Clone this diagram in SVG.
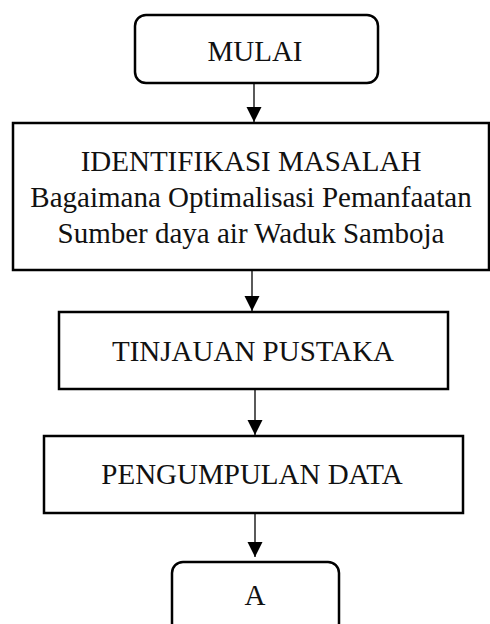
<svg xmlns="http://www.w3.org/2000/svg" width="490" height="624" viewBox="0 0 490 624">
<style>
.box{fill:#fff;stroke:#000;stroke-width:2.5}
.t{font-family:"Liberation Serif","Times New Roman",serif;font-size:29px;fill:#111;text-anchor:middle}
.c{stroke:#000;stroke-width:1.3;fill:none}
</style>
<defs>
<marker id="ah" markerUnits="userSpaceOnUse" markerWidth="16" markerHeight="16" refX="15" refY="7.5" orient="auto">
<path d="M0,0 L15,7.5 L0,15 Z" fill="#000"/>
</marker>
</defs>
<rect width="490" height="624" fill="#fff"/>
<g id="connectors">
<line class="c" x1="254" y1="83" x2="254" y2="122" marker-end="url(#ah)"/>
<line class="c" x1="252" y1="271" x2="252" y2="311" marker-end="url(#ah)"/>
<line class="c" x1="255" y1="390" x2="255" y2="435" marker-end="url(#ah)"/>
<line class="c" x1="255" y1="514" x2="255" y2="557" marker-end="url(#ah)"/>
</g>
<g id="mulai">
<rect class="box" x="135" y="15" width="243" height="68" rx="11"/>
<text class="t" x="255" y="61">MULAI</text>
</g>
<g id="identifikasi">
<rect class="box" x="13" y="123" width="476" height="147"/>
<text class="t" x="251" y="171">IDENTIFIKASI MASALAH</text>
<text class="t" x="251" y="207">Bagaimana Optimalisasi Pemanfaatan</text>
<text class="t" x="251" y="243">Sumber daya air Waduk Samboja</text>
</g>
<g id="tinjauan">
<rect class="box" x="59" y="312" width="389" height="77"/>
<text class="t" x="253" y="361">TINJAUAN PUSTAKA</text>
</g>
<g id="pengumpulan">
<rect class="box" x="44" y="436" width="419" height="77"/>
<text class="t" x="252" y="484">PENGUMPULAN DATA</text>
</g>
<g id="a">
<rect class="box" x="172" y="562" width="167" height="72" rx="11"/>
<text class="t" x="255" y="605">A</text>
</g>
</svg>
